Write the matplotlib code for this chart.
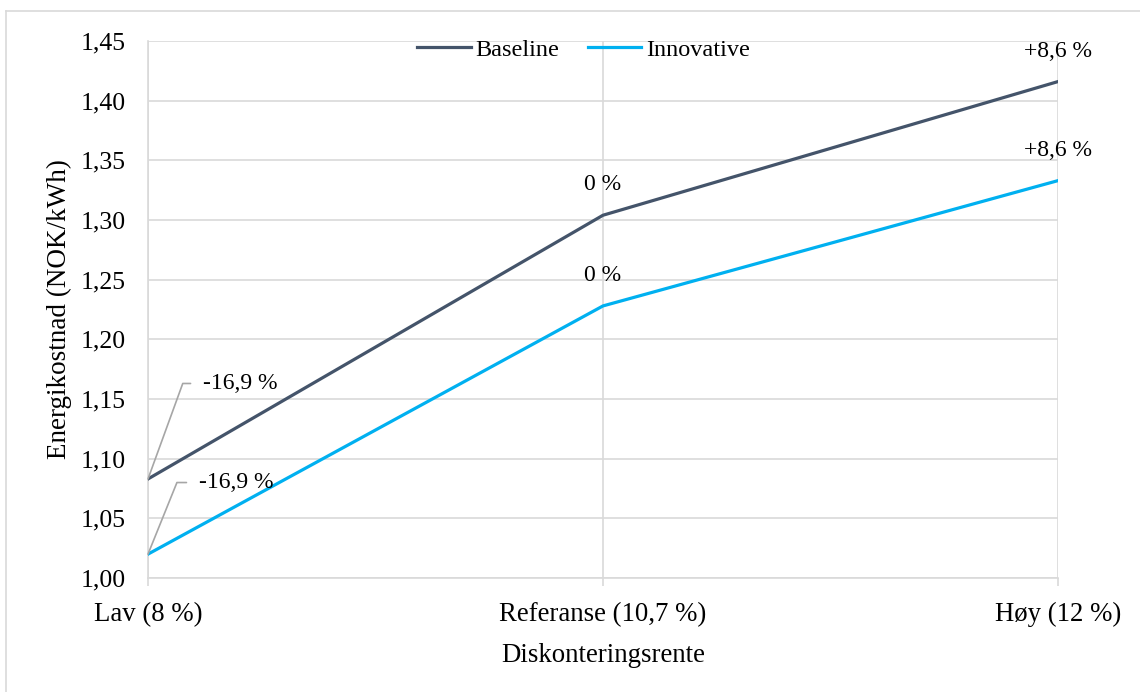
import numpy as np
import matplotlib.pyplot as plt
from matplotlib.lines import Line2D

plt.rcParams['font.family'] = ['Liberation Serif', 'DejaVu Serif']

categories = ['Lav (8 %)', 'Referanse (10,7 %)', 'Høy (12 %)']
baseline = [1.083, 1.304, 1.416]
innovative = [1.020, 1.228, 1.333]
baseline_labels = ['-16,9 %', '0 %', '+8,6 %']
innovative_labels = ['-16,9 %', '0 %', '+8,6 %']
yticks = np.arange(1.00, 1.451, 0.05)

grid_col = '#D9D9D9'
c_base = '#44546A'
c_innov = '#00B0F0'

fig = plt.figure(figsize=(11.4, 6.92), dpi=100)
ax = fig.add_axes([148 / 1140, 1 - 578 / 692, 910 / 1140, 537 / 692])

x = np.arange(len(categories))
ax.plot(x, baseline, color=c_base, lw=2.3, label='Baseline', zorder=3)
ax.plot(x, innovative, color=c_innov, lw=2.3, label='Innovative', zorder=3)

ax.set_xlim(0, 2)
ax.set_ylim(1.0, 1.45)
ax.set_yticks(yticks)
ax.set_yticklabels([f'{v:.2f}'.replace('.', ',') for v in yticks])
ax.set_xticks(x)
ax.set_xticklabels(categories)
ax.grid(True, color=grid_col, lw=1.2)
ax.set_axisbelow(True)
for s in ['top', 'right']:
    ax.spines[s].set_visible(False)
for s in ['left', 'bottom']:
    ax.spines[s].set_color(grid_col)
    ax.spines[s].set_linewidth(1.2)
ax.tick_params(axis='y', length=0, labelsize=18.5, pad=16)
ax.tick_params(axis='x', length=6, width=1.2, color=grid_col, labelsize=19.3, pad=11)
ax.set_ylabel('Energikostnad (NOK/kWh)', fontsize=19.5, labelpad=6)
ax.set_xlabel('Diskonteringsrente', fontsize=19.3, labelpad=12)

# percent labels; the low-rate ones use leader lines
for series, labels in [(baseline, baseline_labels), (innovative, innovative_labels)]:
    for i in (1, 2):
        ax.annotate(labels[i], (x[i], series[i]), xytext=(0, 22),
                    textcoords='offset points', ha='center', va='center',
                    fontsize=17)
ax.annotate(baseline_labels[0], (x[0], baseline[0]), xytext=(0.121, 1.163),
            textcoords='data', ha='left', va='center', fontsize=17,
            arrowprops=dict(arrowstyle='-', color='#A6A6A6', lw=1.2,
                            connectionstyle='angle,angleA=0,angleB=70,rad=0',
                            shrinkA=7, shrinkB=0))
ax.annotate(innovative_labels[0], (x[0], innovative[0]), xytext=(0.112, 1.080),
            textcoords='data', ha='left', va='center', fontsize=17,
            arrowprops=dict(arrowstyle='-', color='#A6A6A6', lw=1.2,
                            connectionstyle='angle,angleA=0,angleB=68,rad=0',
                            shrinkA=7, shrinkB=0))

ax.legend(loc='center', bbox_to_anchor=(0.4786, 0.984), ncol=2, frameon=False,
          fontsize=17.5, handlelength=2.2, handletextpad=0.2, columnspacing=1.15,
          borderaxespad=0, borderpad=0)

# chart area border
fig.add_artist(Line2D([6 / 1140, 6 / 1140], [0, 1 - 11 / 692], color=grid_col, lw=1.2))
fig.add_artist(Line2D([6 / 1140, 1], [1 - 11 / 692, 1 - 11 / 692], color=grid_col, lw=1.2))

fig.savefig('out.png', dpi=100)
